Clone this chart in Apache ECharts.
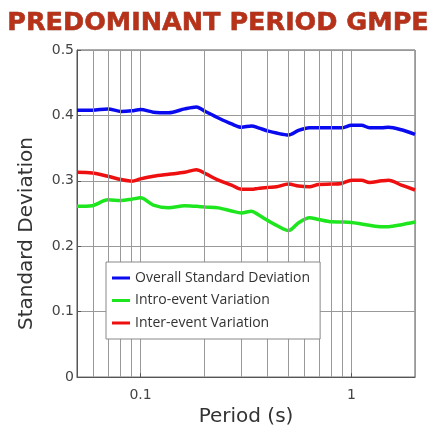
<!DOCTYPE html>
<html>
<head>
<meta charset="utf-8">
<script src="https://cdn.jsdelivr.net/npm/echarts@6/dist/echarts.min.js"></script>
<style>html,body{margin:0;padding:0;background:#fff;}#c{width:436px;height:432px;}</style>
</head>
<body>
<div id="c"></div>
<script>
const titleText = 'PREDOMINANT PERIOD GMPE';
const xAxisName = 'Period (s)';
const yAxisName = 'Standard Deviation';
const seriesNames = ['Overall Standard Deviation', 'Intro-event Variation', 'Inter-event Variation'];
const periods = [0.05, 0.059, 0.07, 0.081, 0.091, 0.1, 0.115, 0.136, 0.162, 0.184, 0.203, 0.234, 0.27, 0.301, 0.336, 0.362, 0.404, 0.441, 0.503, 0.561, 0.632, 0.698, 0.804, 0.897, 1.0, 1.115, 1.217, 1.388, 1.498, 1.726, 2.0];
const overall = [0.408, 0.408, 0.410, 0.406, 0.407, 0.409, 0.405, 0.404, 0.410, 0.413, 0.406, 0.396, 0.387, 0.382, 0.384, 0.381, 0.376, 0.373, 0.370, 0.377, 0.381, 0.381, 0.381, 0.381, 0.385, 0.385, 0.381, 0.381, 0.382, 0.378, 0.371];
const intra = [0.261, 0.262, 0.271, 0.270, 0.272, 0.274, 0.263, 0.259, 0.262, 0.261, 0.260, 0.2587, 0.254, 0.251, 0.2537, 0.248, 0.2388, 0.232, 0.224, 0.236, 0.2437, 0.241, 0.2373, 0.237, 0.2363, 0.234, 0.232, 0.230, 0.230, 0.233, 0.237];
const inter = [0.313, 0.312, 0.307, 0.302, 0.2995, 0.303, 0.307, 0.310, 0.313, 0.317, 0.311, 0.301, 0.2935, 0.287, 0.287, 0.2885, 0.290, 0.291, 0.295, 0.292, 0.291, 0.2945, 0.295, 0.296, 0.301, 0.301, 0.2975, 0.300, 0.301, 0.2935, 0.286];
const minorGridPeriods = [0.06, 0.07, 0.08, 0.09, 0.2, 0.3, 0.4, 0.5, 0.6, 0.7, 0.8, 0.9];
const xTickLabels = {'0.1': '0.1', '1': '1'};
const yTicks = [0, 0.1, 0.2, 0.3, 0.4, 0.5];

const pair = (arr) => periods.map((p, i) => [p, arr[i]]);
const colors = ['#0a0af0', '#1ee61e', '#ee1010'];
const chart = echarts.init(document.getElementById('c'));
chart.setOption({
  animation: false,
  backgroundColor: '#fff',
  title: {
    text: titleText, left: 'center', top: 5,
    textStyle: {fontFamily: 'DejaVu Sans', fontWeight: 'bold', fontSize: 25.5, color: '#b8321a', textBorderColor: '#7a1a0a', textBorderWidth: 0.5}
  },
  grid: {left: 77, right: 21, top: 50, bottom: 47, show: true, borderColor: '#555', borderWidth: 1},
  legend: {
    data: seriesNames, orient: 'vertical', left: 106, top: 262, z: 20,
    icon: 'rect', itemWidth: 18, itemHeight: 3, itemGap: 8.5,
    padding: [9, 10, 9, 6], backgroundColor: '#ffffff', borderColor: '#888', borderWidth: 1,
    textStyle: {fontFamily: 'Open Sans', fontSize: 14, color: '#333'}
  },
  xAxis: {
    type: 'log', logBase: 10, min: 0.05, max: 2,
    name: xAxisName, nameLocation: 'middle', nameGap: 25,
    nameTextStyle: {fontFamily: 'DejaVu Sans', fontSize: 20, color: '#333'},
    axisLine: {lineStyle: {color: '#555'}},
    axisTick: {inside: true, length: 4, lineStyle: {color: '#555'}},
    axisLabel: {showMinLabel: false, showMaxLabel: false, margin: 11, fontFamily: 'DejaVu Sans', fontSize: 14, color: '#444',
      formatter: (v) => xTickLabels[String(+v.toPrecision(6))] || ''},
    splitLine: {show: true, lineStyle: {color: '#999', width: 1}}
  },
  yAxis: {
    type: 'value', min: yTicks[0], max: yTicks[yTicks.length - 1], interval: 0.1,
    name: yAxisName, nameLocation: 'middle', nameGap: 40,
    nameTextStyle: {fontFamily: 'DejaVu Sans', fontSize: 20, color: '#333', padding: [0, 40, 0, 0]},
    axisLine: {lineStyle: {color: '#555'}},
    axisTick: {inside: true, length: 4, lineStyle: {color: '#555'}},
    axisLabel: {margin: 3, fontFamily: 'DejaVu Sans', fontSize: 14, color: '#444', formatter: (v) => String(+v.toFixed(1))},
    splitLine: {show: true, lineStyle: {color: '#999', width: 1}}
  },
  series: [
    {type: 'line', name: '_grid', data: [], z: 1, silent: true,
     markLine: {silent: true, symbol: ['none', 'none'], label: {show: false},
       lineStyle: {color: '#999', width: 1, type: 'solid'},
       data: minorGridPeriods.map(p => ({xAxis: p}))}},
    {type: 'line', name: seriesNames[0], data: pair(overall), showSymbol: false, smooth: 0.3, color: colors[0], lineStyle: {width: 3.5}},
    {type: 'line', name: seriesNames[1], data: pair(intra), showSymbol: false, smooth: 0.3, color: colors[1], lineStyle: {width: 3.5}},
    {type: 'line', name: seriesNames[2], data: pair(inter), showSymbol: false, smooth: 0.3, color: colors[2], lineStyle: {width: 3.5}}
  ]
});
</script>
</body>
</html>
